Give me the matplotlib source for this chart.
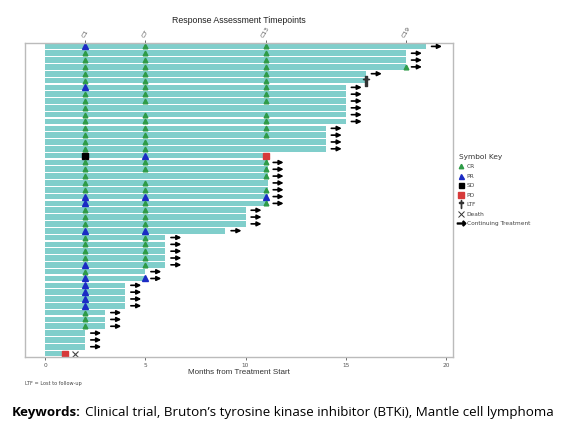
import matplotlib
matplotlib.use("Agg")
from matplotlib import pyplot as plt
from matplotlib.lines import Line2D

# months on treatment, top row first
months = [19, 18, 18, 18, 16, 16, 15, 15, 15, 15, 15, 15, 14, 14, 14, 14,
          11.1, 11.1, 11.1, 11.1, 11.1, 11.1, 11.1, 11.1, 10, 10, 10, 9,
          6, 6, 6, 6, 6, 5, 5, 4, 4, 4, 4, 3, 3, 3, 2, 2, 2, 1.1]

# assessment timepoints (cycle label -> month)
cycles = ['C1', 'C7', 'C13', 'C19']
cycle_months = [2, 5, 11, 18]

c1 = ['PR', 'CR', 'CR', 'CR', 'CR', 'CR', 'PR', 'CR', 'CR', 'CR', 'CR', 'CR',
      'CR', 'CR', 'CR', 'CR', 'SD', 'CR', 'CR', 'CR', 'CR', 'CR', 'PR', 'PR',
      'CR', 'CR', 'CR', 'PR', 'CR', 'CR', 'CR', 'CR', 'PR', 'CR', 'PR', 'PR',
      'PR', 'PR', 'PR', 'CR', 'CR', 'CR', '', '', '', '']
c7 = ['CR', 'CR', 'CR', 'CR', 'CR', 'CR', 'CR', 'CR', 'CR', '', 'CR', 'CR',
      'CR', 'CR', 'CR', 'CR', 'PR', 'CR', 'CR', '', 'CR', 'CR', 'PR', 'CR',
      'CR', 'CR', 'CR', 'PR', 'CR', 'CR', 'CR', 'CR', 'CR', '', 'PR', '',
      '', '', '', '', '', '', '', '', '', '']
c13 = ['CR', 'CR', 'CR', 'CR', 'CR', 'CR', 'CR', 'CR', 'CR', '', 'CR', 'CR',
       'CR', 'CR', '', '', 'PD', 'CR', 'CR', 'CR', '', 'CR', 'PR', 'CR'] + [''] * 22
c19 = ['', '', '', 'CR'] + [''] * 42
responses = [c1, c7, c13, c19]

# other events: (row index, month)
pd_other = [(45, 1.0)]
ltf = [(5, 16)]
death = [(45, 1.5)]
not_continuing = [5, 16, 45]

colors = {'CR': '#2E9B47', 'PR': '#1B2BC4', 'SD': 'black', 'PD': '#D63A3A'}
shapes = {'CR': '^', 'PR': '^', 'SD': 's', 'PD': 's'}
sizes = {'CR': 3.4, 'PR': 3.8, 'SD': 3.8, 'PD': 4.2}

n = len(months)
ypos = [n - 1 - i for i in range(n)]

fig = plt.figure(figsize=(5.79, 4.46), dpi=100)
ax = fig.add_axes([0.0432, 0.1996, 0.7392, 0.7040])

ax.barh(ypos, months, height=0.82, color='#80CECB', left=0)

for resp, m in zip(responses, cycle_months):
    for i, r in enumerate(resp):
        if r:
            ax.plot(m, ypos[i], marker=shapes[r], color=colors[r],
                    markersize=sizes[r], linestyle='none')

for i, m in pd_other:
    ax.plot(m, ypos[i], marker='s', color=colors['PD'], markersize=4.2)
for i, m in ltf:
    ax.plot(m, ypos[i], marker='$\\dagger$', color='#333333', markersize=7)
for i, m in death:
    ax.plot(m, ypos[i], marker='x', color='#444444', markersize=5, mew=0.8)

for i, m in enumerate(months):
    if i in not_continuing:
        continue
    ax.annotate('', xy=(m + 0.8, ypos[i]), xytext=(m + 0.28, ypos[i]),
                arrowprops=dict(arrowstyle='-|>', color='black', lw=1.2,
                                mutation_scale=6.5, shrinkA=0, shrinkB=0))

ax.set_xlim(-1, 20.35)
ax.set_ylim(-0.5, n - 0.5)
ax.set_yticks([])
ax.set_xticks([0, 5, 10, 15, 20])
ax.tick_params(axis='x', labelsize=4.2, colors='#555555', length=2, width=0.6, pad=2)
for s in ax.spines.values():
    s.set_color('#BBBBBB')
    s.set_linewidth(1.0)

top = ax.secondary_xaxis('top')
top.set_xticks(cycle_months)
top.set_xticklabels(cycles, rotation=60, fontsize=4.4, color='#444444')
top.tick_params(length=2, width=0.6, colors='#555555', pad=1)
top.spines['top'].set_visible(False)

ax.set_xlabel('Months from Treatment Start', fontsize=5.8, color='#333333',
              labelpad=1, family='Liberation Sans')
fig.text(0.412, 0.955, 'Response Assessment Timepoints', fontsize=6.3,
         ha='center', va='center', color='#222222', family='Liberation Sans')

handles = [
    Line2D([], [], marker='^', color=colors['CR'], linestyle='none', markersize=3.2),
    Line2D([], [], marker='^', color=colors['PR'], linestyle='none', markersize=3.6),
    Line2D([], [], marker='s', color='black', linestyle='none', markersize=3.6),
    Line2D([], [], marker='s', color=colors['PD'], linestyle='none', markersize=3.8),
    Line2D([], [], marker='$\\dagger$', color='#333333', linestyle='none', markersize=6),
    Line2D([], [], marker='x', color='#333333', linestyle='none', markersize=4.5, mew=0.7),
    Line2D([], [], marker='$\\rightarrow$', color='black', linestyle='none', markersize=6),
]
labels = ['CR', 'PR', 'SD', 'PD', 'LTF', 'Death', 'Continuing Treatment']
leg = fig.legend(handles, labels, loc='upper left', bbox_to_anchor=(0.792, 0.655),
                 frameon=False, fontsize=4.2, title='Symbol Key', title_fontsize=5.3,
                 handlelength=1.0, handletextpad=0.4, labelspacing=0.75,
                 alignment='left', borderpad=0, borderaxespad=0)
for t in leg.get_texts():
    t.set_color('#444444')
leg.get_title().set_color('#333333')

fig.text(0.043, 0.141, 'LTF = Lost to follow-up', fontsize=3.6, color='#444444',
         va='center')

# caption line: bold "Keywords:" then the rest
kw = fig.text(0.021, 0.074, 'Keywords:', fontsize=9.6, fontweight='bold',
              family='Open Sans', va='center')
fig.canvas.draw()
bb = kw.get_window_extent(fig.canvas.get_renderer())
fig.text(bb.x1 / fig.bbox.width + 0.006, 0.074,
         'Clinical trial, Bruton\u2019s tyrosine kinase inhibitor (BTKi), Mantle cell lymphoma',
         fontsize=9.6, family='Open Sans', va='center')

fig.savefig('out.png', dpi=100)
